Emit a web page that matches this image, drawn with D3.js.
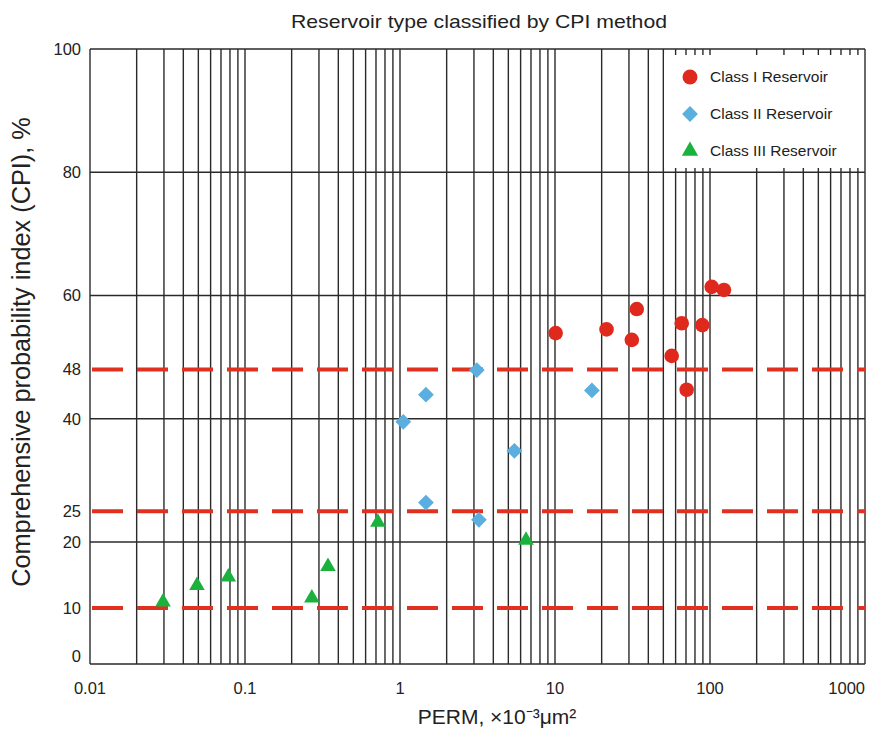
<!DOCTYPE html>
<html>
<head>
<meta charset="utf-8">
<script src="https://cdn.jsdelivr.net/npm/d3@7"></script>
<style>
  body { margin: 0; background: #fff; }
  text { font-family: "Liberation Sans", Arial, sans-serif; fill: #222; }
</style>
</head>
<body>
<div id="chart"></div>
<script>
// Data
const classI = [
  [10.1, 53.9], [21.5, 54.5], [33.7, 57.8], [31.3, 52.8], [65.7, 55.5],
  [89.2, 55.2], [56.6, 50.2], [70.7, 44.7], [102.6, 61.4], [123, 60.9]
];
const classII = [
  [3.13, 47.9], [1.47, 43.9], [1.05, 39.5], [17.3, 44.6],
  [5.47, 34.8], [1.47, 26.4], [3.23, 23.6]
];
const classIII = [
  [0.0296, 10.9], [0.049, 13.4], [0.078, 14.7], [0.27, 11.5],
  [0.343, 16.3], [0.72, 23.2], [6.5, 20.3]
];
const thresholds = [48, 25, 10];
const yTicks = [0, 10, 20, 25, 40, 48, 60, 80, 100];
const yGrid = [20, 40, 60, 80, 100];
const xTicks = [0.01, 0.1, 1, 10, 100, 1000];
const legendItems = ["Class I Reservoir", "Class II Reservoir", "Class III Reservoir"];

const width = 880, height = 731;
const plotL = 90, plotR = 865, plotT = 49, plotB = 664;

const svg = d3.select("#chart").append("svg")
  .attr("width", width).attr("height", height);

const x = d3.scaleLog().domain([0.01, 1000]).range([plotL, plotR]);
// axis spacing in the source is not uniform at the bottom
const y = d3.scaleLinear()
  .domain([-1.5, 10, 20, 100])
  .range([plotB, 608, 542, plotT]);

// vertical grid: every 1..9 in each decade
const vLines = [];
for (let e = -2; e < 3; e++) for (let k = 1; k < 10; k++) vLines.push(k * Math.pow(10, e));
vLines.push(1000);

const grid = svg.append("g").attr("stroke", "#2a2a2a").attr("stroke-width", 1.4);
grid.selectAll("line.v").data(vLines).join("line")
  .attr("x1", d => x(d)).attr("x2", d => x(d))
  .attr("y1", plotT).attr("y2", plotB);
grid.selectAll("line.h").data(yGrid).join("line")
  .attr("x1", plotL).attr("x2", plotR)
  .attr("y1", d => y(d)).attr("y2", d => y(d));
grid.append("line").attr("x1", plotL).attr("x2", plotR).attr("y1", plotB).attr("y2", plotB);

// threshold dashed lines
svg.append("g").selectAll("line").data(thresholds).join("line")
  .attr("x1", plotL + 2).attr("x2", plotR)
  .attr("y1", d => y(d)).attr("y2", d => y(d))
  .attr("stroke", "#e0301f").attr("stroke-width", 4)
  .attr("stroke-dasharray", "31 14");

// tick labels
svg.append("g").selectAll("text").data(yTicks).join("text")
  .attr("x", 81).attr("y", d => y(d))
  .attr("dy", "0.35em").attr("text-anchor", "end")
  .attr("font-size", 16.5).text(d => d);
svg.append("g").selectAll("text").data(xTicks).join("text")
  .attr("x", d => Math.min(x(d), width - 1)).attr("y", 694)
  .attr("text-anchor", d => x(d) + 18 > width ? "end" : "middle")
  .attr("font-size", 16.5).text(d => d);

// markers
const red = "#e0291d", blue = "#5aafdf", green = "#1bb13d";
svg.append("g").selectAll("circle").data(classI).join("circle")
  .attr("cx", d => x(d[0])).attr("cy", d => y(d[1]))
  .attr("r", 7.3).attr("fill", red);
const diamond = d3.symbol().type(d3.symbolSquare).size(125);
svg.append("g").selectAll("path").data(classII).join("path")
  .attr("d", diamond)
  .attr("transform", d => `translate(${x(d[0])},${y(d[1])}) rotate(45)`)
  .attr("fill", blue);
const tri = d3.symbol().type(d3.symbolTriangle).size(105);
svg.append("g").selectAll("path").data(classIII).join("path")
  .attr("d", tri)
  .attr("transform", d => `translate(${x(d[0])},${y(d[1])})`)
  .attr("fill", green);

// legend
svg.append("rect").attr("x", 664).attr("y", 55).attr("width", 200).attr("height", 113).attr("fill", "#fff");
const legend = svg.append("g").attr("transform", "translate(690,77)");
const li = legend.selectAll("g").data(legendItems).join("g")
  .attr("transform", (d, i) => `translate(0,${i * 37})`);
li.filter((d, i) => i === 0).append("circle").attr("r", 7.5).attr("fill", red);
li.filter((d, i) => i === 1).append("path")
  .attr("d", d3.symbol().type(d3.symbolSquare).size(125)).attr("transform", "rotate(45)").attr("fill", blue);
li.filter((d, i) => i === 2).append("path")
  .attr("d", d3.symbol().type(d3.symbolTriangle).size(115)).attr("fill", green);
li.append("text").attr("x", 20).attr("dy", "0.35em").attr("font-size", 15.5).text(d => d);

// titles
svg.append("text").attr("x", 479).attr("y", 28).attr("text-anchor", "middle")
  .attr("font-size", 19).attr("textLength", 376).attr("lengthAdjust", "spacingAndGlyphs")
  .text("Reservoir type classified by CPI method");
svg.append("text").attr("x", 497).attr("y", 724).attr("text-anchor", "middle")
  .attr("font-size", 21).text("PERM, ×10⁻³μm²");
svg.append("text").attr("transform", "translate(30,352) rotate(-90)")
  .attr("text-anchor", "middle").attr("font-size", 25.3)
  .text("Comprehensive probability index (CPI), %");
</script>
</body>
</html>
